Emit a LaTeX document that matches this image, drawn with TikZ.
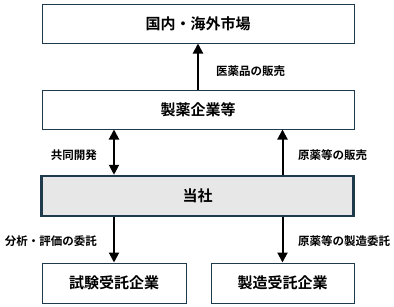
\documentclass[tikz,border=0pt]{standalone}
\usepackage{fontspec}
\setmainfont{Noto Sans CJK JP}[BoldFont={Noto Sans CJK JP Bold}]
\usetikzlibrary{positioning,arrows.meta}
\definecolor{boxline}{HTML}{1F3A4D}
\definecolor{ourfill}{HTML}{E7E7E7}

\begin{document}
\begin{tikzpicture}[x=1pt,y=-1pt,
  party/.style={draw=boxline,line width=1pt,fill=white,minimum height=39pt,font=\fontsize{15}{18}\selectfont\bfseries},
  lbl/.style={inner sep=0pt,font=\fontsize{11.5}{14}\selectfont\bfseries},
  flow/.style={-{Triangle[width=10pt,length=10pt]},line width=2pt}]
\useasboundingbox (0,0) rectangle (394,306);
\node[party,minimum width=312pt] (market) at (198,23.5) {国内・海外市場};
\node[party,minimum width=312pt] (pharma) at (198,109.5) {製薬企業等};
\node[party,minimum width=312pt,minimum height=40pt,fill=ourfill,line width=2.5pt] (us) at (197.5,196) {当社};
\node[party,minimum width=144pt,minimum height=40pt] (test) at (114,283) {試験受託企業};
\node[party,minimum width=143pt,minimum height=40pt] (mfg) at (282.5,283) {製造受託企業};
\node[lbl,anchor=west] (sales) at (216,71) {医薬品の販売};
\node[lbl,anchor=east] (codev) at (97,155) {共同開発};
\node[lbl,anchor=west] (api) at (298,155) {原薬等の販売};
\node[lbl,anchor=east] (analysis) at (97,241) {分析・評価の委託};
\node[lbl,anchor=west] (apimfg) at (298,241) {原薬等の製造委託};
\draw[flow] (pharma) -- (market);
\draw[flow,{Triangle[width=10pt,length=10pt]}-{Triangle[width=10pt,length=10pt]}] (pharma.south -| test.north) -- (us.north -| test.north);
\draw[flow] (us.north -| mfg.north) -- (pharma.south -| mfg.north);
\draw[flow] (us.south -| test.north) -- (test.north);
\draw[flow] (us.south -| mfg.north) -- (mfg.north);
\end{tikzpicture}
\end{document}
